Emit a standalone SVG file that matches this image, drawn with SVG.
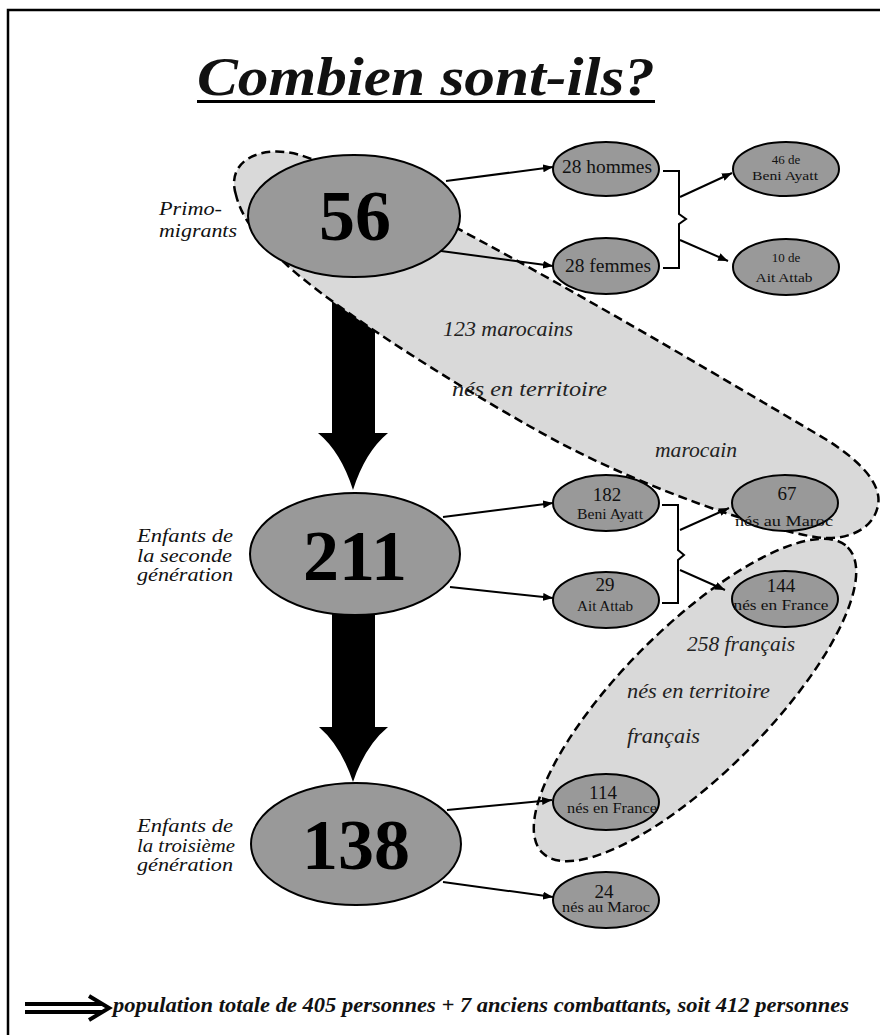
<svg xmlns="http://www.w3.org/2000/svg" width="880" height="1035" viewBox="0 0 880 1035">
<defs>
<style>
text{font-family:'Liberation Serif','Times New Roman',serif;fill:#111}
.node{fill:#999;stroke:#000;stroke-width:2}
.grp{fill:#d9d9d9;stroke:#000;stroke-width:2.5;stroke-dasharray:9 5}
.conn{fill:none;stroke:#000;stroke-width:2}
.bigarrow{fill:#000;stroke:none}
.big{font-size:72px;font-weight:bold;fill:#000;text-anchor:middle}
.lab{font-size:18px;font-style:italic}
.inner{font-size:20px;font-style:italic;fill:#222}
.n1{font-size:19px;text-anchor:middle}
.n2{font-size:14px;text-anchor:middle}
.n3{font-size:13px;text-anchor:middle}
</style>
<marker id="ah" viewBox="0 0 10 8" refX="10" refY="4" markerWidth="10" markerHeight="8" markerUnits="userSpaceOnUse" orient="auto">
<path d="M0,0 L10,4 L0,8 z" fill="#000"/>
</marker>
</defs>
<rect x="0" y="0" width="880" height="1035" fill="#fff"/>
<rect id="frame" x="8" y="10" width="900" height="1100" fill="none" stroke="#000" stroke-width="2.5"/>

<g id="title">
<text x="197" y="95" font-size="54" font-weight="bold" font-style="italic" fill="#000" textLength="458" lengthAdjust="spacingAndGlyphs">Combien sont-ils?</text>
<rect x="197" y="100" width="458" height="3" fill="#000"/>
</g>

<g id="big-arrows">
<path class="bigarrow" d="M332,277 H375 V433 H388 Q365,452 353,490 Q341,452 318,433 H332 Z"/>
<path class="bigarrow" d="M332,612 H375 V727 H388 Q365,746 353,782 Q341,746 319,727 H332 Z"/>
</g>

<g id="group-marocains">
<path class="grp" d="M236,195 C225,160 262,144 300,155 C400,186 700,365 827,440 C862,462 882,485 878,505 C874,530 845,542 815,537 C760,528 650,490 560,443 C480,400 350,320 290,268 C260,240 242,220 236,195 Z"/>
<text class="inner" x="443" y="336" textLength="130" lengthAdjust="spacingAndGlyphs">123 marocains</text>
<text class="inner" x="452" y="396" textLength="155" lengthAdjust="spacingAndGlyphs">nés en territoire</text>
<text class="inner" x="655" y="457" textLength="82" lengthAdjust="spacingAndGlyphs">marocain</text>
</g>

<g id="group-francais">
<ellipse class="grp" cx="695" cy="700" rx="216" ry="73" transform="rotate(-45 695 700)"/>
<text class="inner" x="687" y="651" textLength="108" lengthAdjust="spacingAndGlyphs">258 français</text>
<text class="inner" x="627" y="698" textLength="143" lengthAdjust="spacingAndGlyphs">nés en territoire</text>
<text class="inner" x="627" y="743" textLength="73" lengthAdjust="spacingAndGlyphs">français</text>
</g>

<g id="connectors">
<line class="conn" x1="446" y1="181" x2="553" y2="167" marker-end="url(#ah)"/>
<line class="conn" x1="441" y1="251" x2="553" y2="266" marker-end="url(#ah)"/>
<path class="conn" d="M663,171 H679 V214 L686,219 L679,224 V268 H663"/>
<line class="conn" x1="680" y1="197" x2="732" y2="173" marker-end="url(#ah)"/>
<line class="conn" x1="680" y1="240" x2="728" y2="261" marker-end="url(#ah)"/>
<line class="conn" x1="443" y1="517" x2="553" y2="503" marker-end="url(#ah)"/>
<line class="conn" x1="450" y1="587" x2="553" y2="598" marker-end="url(#ah)"/>
<path class="conn" d="M662,505 H678 V550 L684,555 L678,560 V603 H662"/>
<line class="conn" x1="680" y1="530" x2="729" y2="508" marker-end="url(#ah)"/>
<line class="conn" x1="680" y1="570" x2="725" y2="590" marker-end="url(#ah)"/>
<line class="conn" x1="447" y1="810" x2="552" y2="800" marker-end="url(#ah)"/>
<line class="conn" x1="443" y1="882" x2="553" y2="897" marker-end="url(#ah)"/>
</g>

<g id="node-56">
<ellipse class="node" cx="354" cy="216" rx="106" ry="61"/>
<text class="big" x="355" y="240">56</text>
<text class="lab" x="159" y="215" textLength="63" lengthAdjust="spacingAndGlyphs">Primo-</text>
<text class="lab" x="159" y="237" textLength="78" lengthAdjust="spacingAndGlyphs">migrants</text>
</g>

<g id="node-211">
<ellipse class="node" cx="355" cy="554" rx="105" ry="61"/>
<text class="big" x="355" y="580">211</text>
<text class="lab" x="137" y="542" textLength="96" lengthAdjust="spacingAndGlyphs">Enfants de</text>
<text class="lab" x="137" y="562" textLength="95" lengthAdjust="spacingAndGlyphs">la seconde</text>
<text class="lab" x="137" y="581" textLength="96" lengthAdjust="spacingAndGlyphs">génération</text>
</g>

<g id="node-138">
<ellipse class="node" cx="356" cy="844" rx="105" ry="61"/>
<text class="big" x="356" y="869">138</text>
<text class="lab" x="137" y="832" textLength="96" lengthAdjust="spacingAndGlyphs">Enfants de</text>
<text class="lab" x="137" y="852" textLength="98" lengthAdjust="spacingAndGlyphs">la troisième</text>
<text class="lab" x="137" y="871" textLength="96" lengthAdjust="spacingAndGlyphs">génération</text>
</g>

<g id="node-28-hommes">
<ellipse class="node" cx="606" cy="169" rx="53" ry="27"/>
<text class="n1" x="607" y="173" textLength="90" lengthAdjust="spacingAndGlyphs">28 hommes</text>
</g>
<g id="node-28-femmes">
<ellipse class="node" cx="606" cy="266" rx="53" ry="28"/>
<text class="n1" x="608" y="272" textLength="86" lengthAdjust="spacingAndGlyphs">28 femmes</text>
</g>
<g id="node-46-beni-ayatt">
<ellipse class="node" cx="786" cy="169" rx="53" ry="27"/>
<text class="n3" x="786" y="164">46 de</text>
<text class="n3" x="785" y="180" textLength="66" lengthAdjust="spacingAndGlyphs">Beni Ayatt</text>
</g>
<g id="node-10-ait-attab">
<ellipse class="node" cx="786" cy="267" rx="53" ry="28"/>
<text class="n3" x="786" y="262">10 de</text>
<text class="n3" x="784" y="282" textLength="57" lengthAdjust="spacingAndGlyphs">Ait Attab</text>
</g>

<g id="node-182">
<ellipse class="node" cx="606" cy="503" rx="53" ry="28"/>
<text class="n1" x="607" y="501">182</text>
<text class="n2" x="610" y="519" textLength="66" lengthAdjust="spacingAndGlyphs">Beni Ayatt</text>
</g>
<g id="node-29">
<ellipse class="node" cx="606" cy="600" rx="53" ry="28"/>
<text class="n1" x="605" y="591">29</text>
<text class="n2" x="605" y="611" textLength="56" lengthAdjust="spacingAndGlyphs">Ait Attab</text>
</g>
<g id="node-67">
<ellipse class="node" cx="785" cy="503" rx="53" ry="28"/>
<text class="n1" x="787" y="500">67</text>
<text class="n2" x="784" y="526" textLength="98" lengthAdjust="spacingAndGlyphs">nés au Maroc</text>
</g>
<g id="node-144">
<ellipse class="node" cx="785" cy="599" rx="53" ry="28"/>
<text class="n1" x="781" y="592">144</text>
<text class="n2" x="781" y="610" textLength="95" lengthAdjust="spacingAndGlyphs">nés en France</text>
</g>

<g id="node-114">
<ellipse class="node" cx="606" cy="802" rx="53" ry="28"/>
<text class="n1" x="603" y="799">114</text>
<text class="n2" x="612" y="813" textLength="90" lengthAdjust="spacingAndGlyphs">nés en France</text>
</g>
<g id="node-24">
<ellipse class="node" cx="606" cy="900" rx="53" ry="28"/>
<text class="n1" x="604" y="898">24</text>
<text class="n2" x="606" y="912" textLength="88" lengthAdjust="spacingAndGlyphs">nés au Maroc</text>
</g>

<g id="total">
<path d="M25,1004 H102 M25,1012 H102" stroke="#000" stroke-width="4" fill="none"/>
<path d="M89,996 L109,1008 L89,1020" stroke="#000" stroke-width="4" fill="none"/>
<text x="113" y="1012" font-size="21" font-weight="bold" font-style="italic" fill="#000" textLength="736" lengthAdjust="spacingAndGlyphs">population totale de 405 personnes + 7 anciens combattants, soit 412 personnes</text>
</g>
</svg>
